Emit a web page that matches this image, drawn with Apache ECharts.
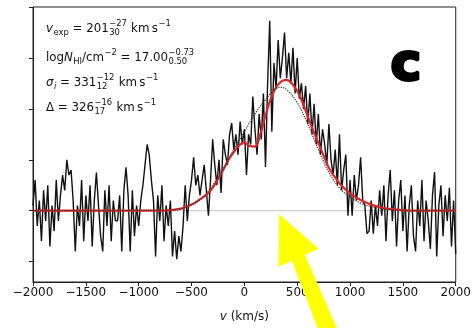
<!DOCTYPE html>
<html><head><meta charset="utf-8">
<script src="https://cdn.jsdelivr.net/npm/echarts@6/dist/echarts.min.js"></script>
<style>html,body{margin:0;padding:0;background:#fff}#c{width:474px;height:328px}</style>
</head><body><div id="c"></div>
<script>
// ---- data ----
const xTicks = [-2000, -1500, -1000, -500, 0, 500, 1000, 1500, 2000];
const yTicks = [-1, 0, 1, 2, 3, 4];
const specStart = -2000, specStep = 20;
const specFlux = [
  0.1, 0.6, -0.3, 0.2, -0.6, 0.4, -0.2, 0.5, -0.7, 0.1,
  -0.4, 0.6, -0.2, 0.3, 0.7, 0.4, 1.0, 0.7, 0.8, 0.2,
  -0.8, 0.1, -0.3, 0.6, -0.6, 0.3, -0.2, 0.5, -0.7, 0.2,
  0.75, 0.1, -0.5, -0.8, 0.4, -0.3, 0.5, -0.6, 0.2, -0.2,
  -0.2, 0.3, -0.8, 0.4, 0.85, 0.3, -0.8, 0.4, -0.5, 0.1,
  -0.3, 0.2, 0.5, 0.9, 1.3, 1.1, 0.6, 0.2, -0.9, 0.3,
  -0.2, 0.5, -0.6, 0.1, -0.3, 0.2, -0.9, -0.4, -0.95, -0.5,
  -0.8, -0.3, 0.5, -0.2, 0.3, 0.6, 1.05, 0.5, 0.7, 0.3,
  0.6, 0.9, 0.4, -0.1, 0.6, 1.4, 0.9, 0.5, 1.0, 0.35,
  1.4, 1.1, 0.9, 1.5, 1.72, 1.2, 1.5, 1.1, 1.75, 1.3,
  1.6, 0.7, 1.5, 1.3, 2.24, 1.6, 1.1, 1.9, 1.4, 2.3,
  0.86, 2.5, 3.73, 1.55, 2.9, 2.4, 3.35, 2.6, 3.0, 3.5,
  2.6, 3.1, 2.5, 3.2, 2.3, 3.0, 2.2, 2.5, 2.0, 2.45,
  1.7, 2.3, 1.5, 2.1, 1.3, 1.9, 1.1, 1.6, 1.3, 0.9,
  1.7, 1.0, 0.7, 1.2, 0.5, 1.5, 0.4, 0.8, 1.1, -0.1,
  0.6, -0.1, 0.7, 0.2, 0.5, 1.05, 0.2, 0.1, -0.45, -0.4,
  0.2, -0.45, 0.1, -0.3, 0.4, -0.1, 0.5, -0.6, 0.3, 0.8,
  -0.2, 0.4, -0.7, 0.2, 0.6, -0.4, 0.3, -0.8, 0.1, 0.5,
  -0.5, -0.8, 0.2, -0.3, 0.6, -0.6, 0.2, -0.2, -0.75, 0.3,
  0.76, -0.9, 0.1, 0.5, -0.5, 0.3, -0.2, 0.45, -0.7, 0.2,
  -0.85
];
const modelV = [-2000, -800, -700, -600, -550, -500, -450, -400, -350, -300, -250, -200, -150, -100, -50, 0, 50, 100, 150, 200, 250, 300, 350, 400, 450, 500, 550, 600, 650, 700, 750, 800, 850, 900, 950, 1000, 1050, 1100, 1150, 1200, 1250, 1300, 1350, 1400, 1500, 1600, 2000];
const modelFlux = [0, 0, 0.01, 0.04, 0.08, 0.12, 0.18, 0.25, 0.33, 0.45, 0.62, 0.8, 1.0, 1.15, 1.28, 1.34, 1.27, 1.26, 1.5, 1.87, 2.2, 2.42, 2.54, 2.57, 2.5, 2.35, 2.13, 1.85, 1.58, 1.33, 1.08, 0.84, 0.68, 0.54, 0.43, 0.34, 0.27, 0.21, 0.16, 0.12, 0.09, 0.06, 0.04, 0.03, 0.01, 0, 0];
const dotV = [-2000, -700, -600, -500, -400, -300, -200, -100, 0, 100, 200, 300, 350, 400, 500, 600, 700, 800, 900, 1000, 1100, 1200, 1300, 1400, 1600, 2000];
const dotFlux = [0, 0.01, 0.04, 0.12, 0.25, 0.5, 0.82, 1.2, 1.55, 1.9, 2.18, 2.4, 2.42, 2.38, 2.12, 1.7, 1.2, 0.75, 0.45, 0.27, 0.15, 0.08, 0.04, 0.02, 0, 0];
const annotLines = [
  [{k:'i', t:'v'}, {k:'sub', t:'exp'}, {k:'n', t:' = 201'}, {k:'ss', p:'\u221227', b:'30'}, {k:'n', t:' km\u2009s'}, {k:'sup', t:'\u22121'}],
  [{k:'n', t:'log'}, {k:'i', t:'N'}, {k:'sub', t:'HI'}, {k:'n', t:'/cm'}, {k:'sup', t:'\u22122'}, {k:'n', t:' = 17.00'}, {k:'ss', p:'\u22120.73', b:'0.50'}],
  [{k:'i', t:'\u03c3'}, {k:'sub', t:'i', it:true}, {k:'n', t:' = 331'}, {k:'ss', p:'\u221212', b:'12'}, {k:'n', t:' km\u2009s'}, {k:'sup', t:'\u22121'}],
  [{k:'n', t:'\u0394 = 326'}, {k:'ss', p:'\u221216', b:'17'}, {k:'n', t:' km\u2009s'}, {k:'sup', t:'\u22121'}]
];
const panelLabel = 'c';

// ---- build ----
const spec = specFlux.map((f, i) => [specStart + i * specStep, f]);
const model = modelV.map((v, i) => [v, modelFlux[i]]);
const dots = dotV.map((v, i) => [v, dotFlux[i]]);

const FAM = '"DejaVu Sans", sans-serif';
const mainF = 11.8, smallF = 8.4;
const mctx = document.createElement('canvas').getContext('2d');
function tw(t, size, it) { mctx.font = (it ? 'italic ' : '') + size + 'px ' + FAM; return mctx.measureText(t).width; }
function txt(t, x, y, size, it) {
  return {type: 'text', x: x, y: y, z: 100, style: {text: t, fontSize: size, fontFamily: FAM, fontStyle: it ? 'italic' : 'normal', fill: '#111', align: 'left', verticalAlign: 'middle'}};
}
const graphics = [];
const lineY = [29, 58, 83, 108];
annotLines.forEach((segs, li) => {
  let x = 46; const yc = lineY[li];
  segs.forEach(s => {
    if (s.k === 'n' || s.k === 'i') {
      graphics.push(txt(s.t, x, yc, mainF, s.k === 'i'));
      x += tw(s.t, mainF, s.k === 'i');
    } else if (s.k === 'sub' || s.k === 'sup') {
      graphics.push(txt(s.t, x + 0.5, yc + (s.k === 'sub' ? 3.8 : -4.8), smallF, !!s.it));
      x += tw(s.t, smallF, !!s.it) + 0.5;
    } else {
      graphics.push(txt(s.p, x + 0.5, yc - 4.8, smallF, false));
      graphics.push(txt(s.b, x + 0.5, yc + 4.3, smallF, false));
      x += Math.max(tw(s.p, smallF), tw(s.b, smallF)) + 1;
    }
  });
});
graphics.push({type: 'text', x: 406, y: 66, z: 100, style: {text: panelLabel, fontSize: 52, fontWeight: 'bold', fontFamily: FAM, fill: '#000', stroke: '#000', lineWidth: 3, align: 'center', verticalAlign: 'middle'}});
// yellow arrow (annotation)
graphics.push({type: 'polygon', z: 120, shape: {points: [
  [279, 214], [318.7, 248.8], [305, 255], [340, 335], [323, 342], [292, 261], [278.5, 266.8]
]}, style: {fill: '#ffff00', stroke: null}});

const chart = echarts.init(document.getElementById('c'), null, {renderer: 'canvas'});
chart.setOption({
  animation: false,
  backgroundColor: '#fff',
  grid: {left: 33, right: 18, top: 7, bottom: 46, show: true, borderColor: '#222', borderWidth: 1, backgroundColor: 'transparent'},
  xAxis: {
    type: 'value', min: -2000, max: 2000, interval: 500,
    axisLine: {show: true, onZero: false, lineStyle: {color: '#222', width: 1}},
    axisTick: {show: true, inside: false, length: 4, lineStyle: {color: '#222'}},
    axisLabel: {show: true, margin: 5, color: '#111', fontSize: 12, fontFamily: FAM, showMinLabel: true, showMaxLabel: true,
      formatter: v => String(v).replace('-', '\u2212')},
    splitLine: {show: false},
    name: '{it|v} (km/s)', nameLocation: 'middle', nameGap: 29,
    nameTextStyle: {color: '#111', fontSize: 12, fontFamily: FAM, rich: {it: {fontStyle: 'italic', fontSize: 12, fontFamily: FAM, color: '#111'}}}
  },
  yAxis: {
    type: 'value', min: -1.4, max: 4,
    axisLine: {show: true, onZero: false, lineStyle: {color: '#222', width: 1}},
    axisTick: {show: true, inside: false, length: 4, lineStyle: {color: '#222'}, customValues: yTicks},
    axisLabel: {show: false},
    splitLine: {show: false}
  },
  graphic: graphics,
  series: [
    {type: 'line', data: [[-2000, 0], [2000, 0]], showSymbol: false, silent: true, lineStyle: {color: '#c4c4c4', width: 1}, z: 1},
    {type: 'line', data: spec, showSymbol: false, silent: true, lineStyle: {color: '#111', width: 1.4}, z: 2},
    {type: 'line', data: model, showSymbol: false, smooth: 0.4, silent: true, lineStyle: {color: '#dd2424', width: 2.2}, z: 3},
    {type: 'line', data: dots, showSymbol: false, smooth: 0.4, silent: true, lineStyle: {color: '#333', width: 1.2, type: 'dotted'}, z: 4}
  ]
});
</script>
</body></html>
